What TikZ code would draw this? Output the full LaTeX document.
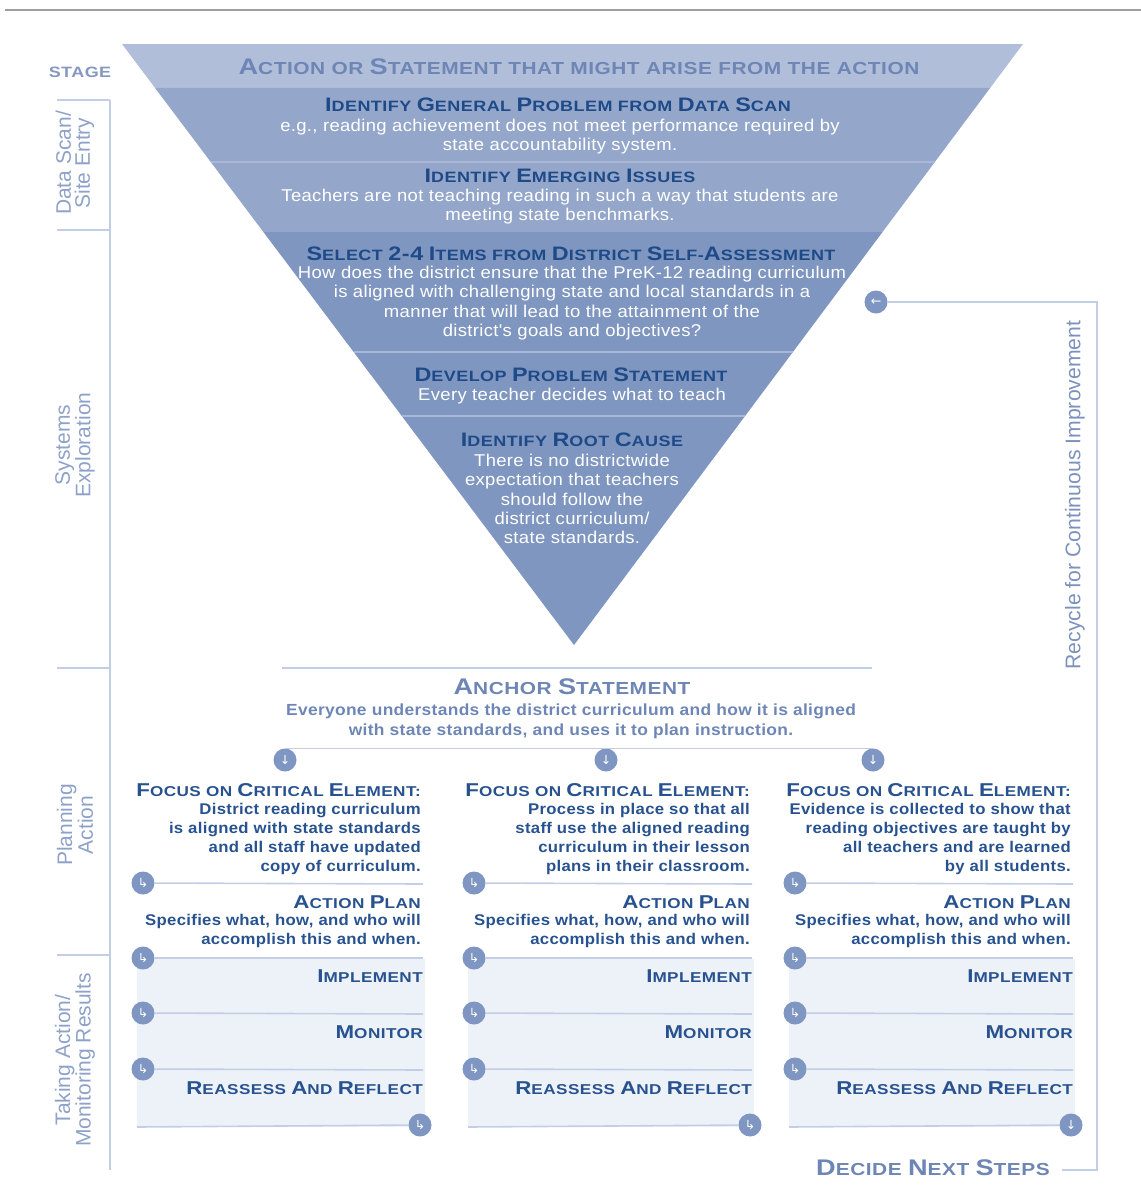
\documentclass[tikz,border=0pt]{standalone}
\usepackage{fontspec}
\setmainfont{Liberation Sans}
\newfontfamily\titlefont[FakeStretch=1.2,LetterSpace=3]{Liberation Sans}
\newfontfamily\bodyfont[FakeStretch=1.08,LetterSpace=2]{Liberation Sans}
\newfontfamily\symfont{DejaVu Sans}
\usetikzlibrary{calc}
\makeatletter
\newcommand\K[1]{{\fontsize{\fpeval{1.3*\f@size}}{0}\selectfont #1}}
\makeatother
\definecolor{bandA}{HTML}{B1BED9}
\definecolor{bandB}{HTML}{94A7CB}
\definecolor{bandC}{HTML}{7E96C0}
\definecolor{sepc}{HTML}{A9B8D6}
\definecolor{navy}{HTML}{1E4A88}
\definecolor{colblue}{HTML}{27528F}
\definecolor{midblue}{HTML}{6E86B5}
\definecolor{lightlab}{HTML}{8EA1C8}
\definecolor{rulec}{HTML}{C3CEE5}
\definecolor{shadec}{HTML}{EDF1F8}
\definecolor{circc}{HTML}{7E96C1}
\begin{document}
\begin{tikzpicture}[x=1pt,y=-1pt,
  ttl/.style={font=\titlefont\bfseries\fontsize{15}{17}\selectfont, text=navy, inner sep=0},
  bigttl/.style={font=\titlefont\bfseries\fontsize{17.4}{19}\selectfont, text=midblue, inner sep=0},
  colttl/.style={font=\titlefont\bfseries\fontsize{14.3}{16}\selectfont, text=colblue, inner sep=0, anchor=east},
  body/.style={font=\bodyfont\fontsize{17.1}{19.4}\selectfont, text=white, align=center, inner sep=0},
  colbody/.style={font=\bodyfont\bfseries\fontsize{15.5}{19}\selectfont, text=colblue, align=right, inner sep=0, anchor=east},
  anchorbody/.style={font=\bodyfont\bfseries\fontsize{16.1}{19.4}\selectfont, text=midblue, align=center, inner sep=0},
  sidelab/.style={rotate=90, font=\fontsize{21}{19}\selectfont, text=lightlab, align=center, inner sep=0},
  circ/.style={circle, fill=circc, minimum size=23, inner sep=0, text=white, font=\symfont\fontsize{12.5}{12.5}\selectfont},
  hline/.style={draw=rulec, line width=1.6},
  sepline/.style={draw=sepc, line width=1.5}
]
\useasboundingbox (0,0) rectangle (1141,1200);
% top rule
\draw[draw=black!38, line width=2.5] (5,10) -- (1141,10);

% ---------- inverted triangle ----------
\coordinate (TL) at (122,44);
\coordinate (TR) at (1023,44);
\coordinate (AP) at (574,645);
\fill[bandA] (TL) -- (TR) -- ($(TR)!0.0732!(AP)$) -- ($(TL)!0.0732!(AP)$) -- cycle;
\fill[bandB] ($(TL)!0.0732!(AP)$) -- ($(TR)!0.0732!(AP)$) -- ($(TR)!0.3128!(AP)$) -- ($(TL)!0.3128!(AP)$) -- cycle;
\fill[bandC] ($(TL)!0.3128!(AP)$) -- ($(TR)!0.3128!(AP)$) -- (AP) -- cycle;
\draw[sepline] ($(TL)!0.1963!(AP)$) -- ($(TR)!0.1963!(AP)$);
\draw[sepline] ($(TL)!0.5125!(AP)$) -- ($(TR)!0.5125!(AP)$);
\draw[sepline] ($(TL)!0.6190!(AP)$) -- ($(TR)!0.6190!(AP)$);

\node[bigttl, text=midblue] (h0) at (579,67) {\K{A}CTION OR \K{S}TATEMENT THAT MIGHT ARISE FROM THE ACTION};

\node[ttl] (h1) at (558,105) {\K{I}DENTIFY \K{G}ENERAL \K{P}ROBLEM FROM \K{D}ATA \K{S}CAN};
\node[body] (b1) at (560,136.5) {e.g., reading achievement does not meet performance required by\\state accountability system.};

\node[ttl] (h2) at (560,176) {\K{I}DENTIFY \K{E}MERGING \K{I}SSUES};
\node[body] (b2) at (560,206.5) {Teachers are not teaching reading in such a way that students are\\meeting state benchmarks.};

\node[ttl] (h3) at (571,254) {\K{S}ELECT \K{2-4} \K{I}TEMS FROM \K{D}ISTRICT \K{S}ELF-\K{A}SSESSMENT};
\node[body] (b3) at (572,303) {How does the district ensure that the PreK-12 reading curriculum\\is aligned with challenging state and local standards in a\\manner that will lead to the attainment of the\\district's goals and objectives?};

\node[ttl] (h4) at (571,375) {\K{D}EVELOP \K{P}ROBLEM \K{S}TATEMENT};
\node[body] (b4) at (572,396) {Every teacher decides what to teach};

\node[ttl] (h5) at (572,440) {\K{I}DENTIFY \K{R}OOT \K{C}AUSE};
\node[body] (b5) at (572,499) {There is no districtwide\\expectation that teachers\\should follow the\\district curriculum/\\state standards.};

% ---------- stage column ----------
\node[bigttl, text=midblue!85, font=\titlefont\bfseries\fontsize{15}{16}\selectfont] (stage) at (80,72) {STAGE};
\coordinate (v0) at (110,100);
\coordinate (v1) at (110,1170);
\draw[hline] (v0) -- (v1);
\coordinate (t0) at (57,100);
\coordinate (t1a) at (57,230);  \coordinate (t1b) at (110,230);
\coordinate (t2a) at (57,668);  \coordinate (t2b) at (110,668);
\coordinate (t3a) at (57,955);  \coordinate (t3b) at (110,955);
\draw[hline] (t0) -- (v0);
\draw[hline] (t1a) -- (t1b);
\draw[hline] (t2a) -- (t2b);
\draw[hline] (t3a) -- (t3b);
\node[sidelab] (s1) at (75,163) {Data Scan/\\Site Entry};
\node[sidelab] (s2) at (75,445) {Systems\\Exploration};
\node[sidelab] (s3) at (75,825) {Planning\\Action};
\node[sidelab] (s4) at (75,1060) {Taking Action/\\Monitoring Results};

% ---------- anchor statement ----------
\coordinate (an1) at (282,668);
\coordinate (an2) at (872,668);
\draw[hline] (an1) -- (an2);
\node[bigttl] (anc) at (572,687) {\K{A}NCHOR \K{S}TATEMENT};
\node[anchorbody] (ancb) at (571,721.5) {Everyone understands the district curriculum and how it is aligned\\with state standards, and uses it to plan instruction.};
\node[circ] (ca1) at (285,760) {↓};
\node[circ] (ca2) at (606,760) {↓};
\node[circ] (ca3) at (873,760) {↓};
\draw[hline] (ca1.north) -- (ca3.north);

% ---------- three columns ----------
\foreach \i/\xc/\xr in {1/143/423, 2/474/752, 3/795/1073}{
  \fill[shadec] (\xc-6,959) rectangle (\xr+2,1127);
  \coordinate (e\i a) at (\xr,884);
  \coordinate (e\i b) at (\xr,958);
  \coordinate (e\i c) at (\xr,1014);
  \coordinate (e\i d) at (\xr,1070);
  \coordinate (e\i e) at (\xc-6,1127);
  \node[circ] (c\i a) at (\xc,883) {↳};
  \node[circ] (c\i b) at (\xc,958) {↳};
  \node[circ] (c\i c) at (\xc,1013) {↳};
  \node[circ] (c\i d) at (\xc,1069) {↳};
  \draw[hline] (c\i a) -- (e\i a);
  \draw[hline] (c\i b) -- (e\i b);
  \draw[hline] (c\i c) -- (e\i c);
  \draw[hline] (c\i d) -- (e\i d);
  \node[colttl] (f\i) at (\xr-2,790) {\K{F}OCUS ON \K{C}RITICAL \K{E}LEMENT:};
  \node[colttl] (p\i) at (\xr-2,902) {\K{A}CTION \K{P}LAN};
  \node[colbody] (pb\i) at (\xr-2,931) {Specifies what, how, and who will\\accomplish this and when.};
  \node[colttl] (im\i) at (\xr,976) {\K{I}MPLEMENT};
  \node[colttl] (mo\i) at (\xr,1032) {\K{M}ONITOR};
  \node[colttl] (re\i) at (\xr,1088) {\K{R}EASSESS \K{A}ND \K{R}EFLECT};
}
\node[colbody] (fb1) at (421,838.5) {District reading curriculum\\is aligned with state standards\\and all staff have updated\\copy of curriculum.};
\node[colbody] (fb2) at (750,838.5) {Process in place so that all\\staff use the aligned reading\\curriculum in their lesson\\plans in their classroom.};
\node[colbody] (fb3) at (1071,838.5) {Evidence is collected to show that\\reading objectives are taught by\\all teachers and are learned\\by all students.};

\node[circ] (d1) at (420,1125) {↳};
\node[circ] (d2) at (750,1125) {↳};
\node[circ] (d3) at (1071,1125) {↓};
\draw[hline] (e1e) -- (d1);
\draw[hline] (e2e) -- (d2);
\draw[hline] (e3e) -- (d3);

% ---------- recycle loop ----------
\node[circ] (rc) at (876,302) {←};
\coordinate (r1) at (1097,302);
\coordinate (r2) at (1097,1170);
\coordinate (r3) at (1062,1170);
\draw[hline] (rc) -- (r1) -- (r2) -- (r3);
\node[sidelab, font=\fontsize{21.2}{21}\selectfont, text=midblue!90] (recyc) at (1075,495) {Recycle for Continuous Improvement};
\node[bigttl, anchor=east] (dns) at (1050,1168) {\K{D}ECIDE \K{N}EXT \K{S}TEPS};
\end{tikzpicture}
\end{document}
